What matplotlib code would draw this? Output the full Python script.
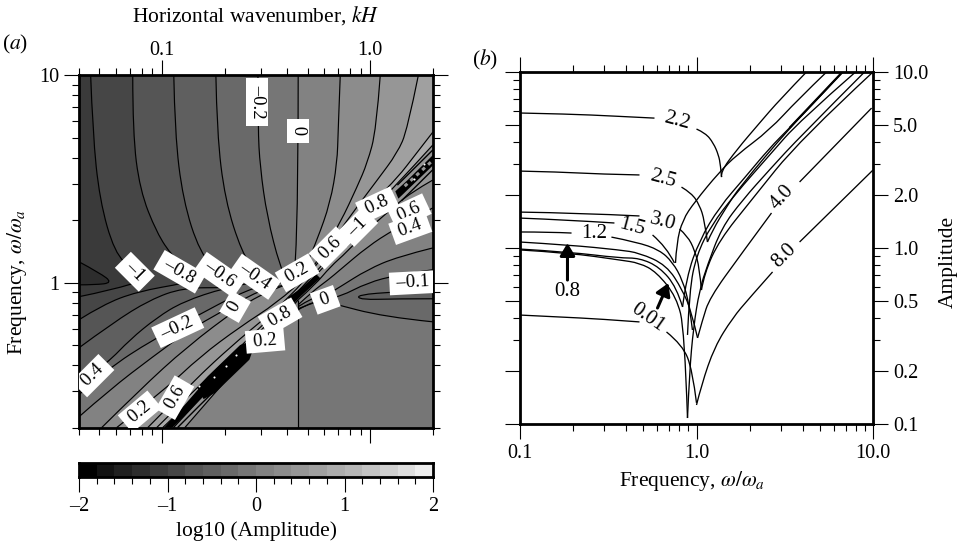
import matplotlib
matplotlib.use("Agg")
import matplotlib.pyplot as plt
from matplotlib.colors import ListedColormap
from matplotlib.patches import PathPatch
from matplotlib.path import Path
from matplotlib.ticker import FixedLocator, NullFormatter

plt.rcParams['font.family'] = ['Liberation Serif', 'DejaVu Serif']
plt.rcParams['mathtext.fontset'] = 'stix'

W, H = 959, 547

# colour bar cells, -2..2 in steps of 0.2
bar_edges = [-2.0, -1.8, -1.6, -1.4, -1.2, -1.0, -0.8, -0.6, -0.4, -0.2, 0.0,
             0.2, 0.4, 0.6, 0.8, 1.0, 1.2, 1.4, 1.6, 1.8, 2.0]
bar_grays = [0, 18, 32, 45, 58, 70, 85, 95, 105, 118, 130, 140, 150, 160, 172, 182, 195, 208, 222, 238]

# panel a: contours as (log10 kH, log10 omega)
EDGE_L, EDGE_R, EDGE_T, EDGE_B = -1.398, 0.301, 1.0, -0.699

c_wedge = [(-1.398, .101), (-1.299, .048), (-1.236, 0), (-1.322, -.010), (-1.398, -.010)]
c_m10 = [(-1.342, 1), (-1.332, .722), (-1.299, .399), (-1.227, .144), (-1.140, .063), (-1.068, .019),
         (-1.236, -.034), (-1.398, -.067)]
c_m08 = [(-1.140, 1), (-1.140, .722), (-1.106, .447), (-1.025, .240), (-.948, .125), (-.866, .053), (-.842, .014),
         (-.880, 0), (-1.121, -.043), (-1.284, -.106), (-1.398, -.178)]
c_m06 = [(-.943, 1), (-.938, .722), (-.899, .399), (-.818, .144), (-.712, .029), (-.640, -.019),
         (-.697, -.024), (-.899, -.024), (-1.058, -.082), (-1.236, -.193), (-1.398, -.313)]
c_m04 = [(-.741, 1), (-.736, .722), (-.697, .399), (-.616, .144), (-.548, .053), (-.491, .014),
         (-.697, -.024), (-.899, -.091), (-1.025, -.168), (-1.154, -.274), (-1.260, -.385), (-1.398, -.491)]
c_m02 = [(-.539, 1), (-.539, .746), (-.529, .558), (-.495, .317), (-.433, .077), (-.394, 0),
         (-.519, -.010), (-.659, -.067), (-.803, -.144), (-1.044, -.274), (-1.265, -.418), (-1.398, -.539)]
c_z00 = [(-.346, 1), (-.346, -.010), (-.409, -.010), (-.529, -.034), (-.722, -.144), (-.866, -.226),
         (-1.044, -.356), (-1.251, -.515), (-1.398, -.645)]
c_p01 = [(-.144, 1), (-.154, .736), (-.159, .577), (-.192, .385), (-.255, .207), (-.303, .096), (-.342, .014),
         (-.495, -.043), (-.625, -.115), (-.880, -.308), (-1.106, -.515), (-1.289, -.697)]
c_p02 = [(.048, 1), (.029, .736), (-.014, .577), (-.063, .462), (-.144, .289), (-.231, .144), (-.298, .038),
         (-.447, -.096), (-.625, -.212), (-.818, -.356), (-.986, -.515), (-1.217, -.697)]
c_p04 = [(.231, 1), (.178, .736), (.130, .625), (.034, .495), (-.063, .366), (-.178, .207), (-.265, .072),
         (-.385, -.067), (-.515, -.178), (-.659, -.298), (-.842, -.467), (-1.068, -.697)]
c_p06 = [(.301, .726), (.216, .616), (.130, .505), (.024, .399), (-.096, .245), (-.216, .101), (-.361, -.058),
         (-.481, -.168), (-.649, -.332), (-.842, -.515), (-1.025, -.697)]
c_p08 = [(.301, .664), (.192, .544), (.072, .418), (-.048, .279), (-.168, .135), (-.337, -.043),
         (-.457, -.159), (-.625, -.332), (-.818, -.529), (-.996, -.697)]

# lower right side of the resonance
c_r180 = [(.301, .495), (.192, .433), (.087, .342), (-.014, .255), (-.111, .149), (-.192, .077), (-.265, -.010), (-.346, -.082)]
c_r208 = [(.301, .361), (.111, .255), (-.014, .173), (-.144, .063), (-.202, .014), (-.279, -.043), (-.346, -.106)]
c_r248 = [(.301, .168), (.130, .125), (-.014, .063), (-.144, -.019), (-.192, -.048), (-.279, -.072), (-.346, -.115)]
c_r270 = [(.301, .063), (.130, .038), (-.014, 0), (-.144, -.067), (-.241, -.082), (-.346, -.125)]
c_r322 = [(.301, -.188), (.063, -.164), (-.192, -.096), (-.265, -.082), (-.346, -.130)]
c_tongue = [(.301, -.038), (.130, -.043), (-.063, -.058), (-.048, -.082), (.130, -.077), (.301, -.077)]
c_left = [(-.890, -.697), (-.587, -.346), (-.409, -.154), (-.346, -.082)]

# dense black contours along the resonance
strip_low = [(-.800, -.560), (-.745, -.530), (-.580, -.370), (-.545, -.270), (-.625, -.300), (-.780, -.450), (-.830, -.505)]
strip_tail = [(-.985, -.697), (-.950, -.697), (-.790, -.535), (-.815, -.500)]
strip_c1 = [(-.395, -.070), (-.337, -.030), (-.258, .040), (-.240, .022), (-.330, -.062), (-.380, -.112)]
strip_c2 = [(-.130, .207), (-.087, .235), (-.072, .207), (-.111, .173)]
strip_c3 = [(-.030, .289), (.005, .305), (.010, .275), (-.020, .262)]
strip_up = [(.120, .440), (.180, .495), (.301, .615), (.301, .565), (.135, .405)]
speck_k = [-.692, -.750, -.644, -.820, .210, .260]
speck_w = [-.399, -.452, -.346, -.495, .500, .570]
hatch_a = [(-.985, -.697), (-.760, -.455), (-.640, -.345)]
hatch_b = [(-.925, -.697), (-.710, -.480), (-.590, -.365)]
hatch_c = [(.130, .470), (.301, .640)]
hatch_d = [(.150, .395), (.301, .545)]
hatch_e = [(-.945, -.697), (-.740, -.475)]
edge_upper = [(-.960, -.697), (-.702, -.400), (-.640, -.350)]
dash_up = [(.165, .465), (.301, .590)]

labels_a = [("\u20130.2", -.543, .871, -90), ("0", -.346, .731, -90), ("0.8", .034, .375, 25),
            ("0.6", .188, .342, 25), ("0.4", .192, .265, 20), ("\u20131", -.058, .269, 45),
            ("0.6", -.192, .168, 45), ("0.2", -.351, .048, 30), ("\u20130.4", -.553, .029, -35),
            ("\u20130.6", -.722, .038, -35), ("\u20130.8", -.914, .053, -30), ("\u20131", -1.130, .053, -45),
            ("0", -.649, -.115, 60), ("\u20130.2", -.924, -.216, 25), ("0.8", -.433, -.164, 30),
            ("0.2", -.505, -.279, 5), ("0", -.216, -.082, 20), ("\u20130.1", .207, 0, 3),
            ("0.4", -1.332, -.447, 45), ("0.2", -1.106, -.620, 40), ("0.6", -.938, -.553, 60)]

# panel b: amplitude curves as (log10 frequency, log10 amplitude)
l22 = [(-1, .767), (-.720, .761), (-.476, .750), (-.238, .738)]
a22 = [(0, .676), (.051, .653), (.096, .596), (.125, .528), (.136, .471), (.142, .403)]
r22 = [(.142, .403), (.136, .432), (.227, .557), (.357, .710), (.470, .841), (.623, 1)]
l25 = [(-1, .437), (-.776, .432), (-.550, .420), (-.323, .415)]
a25 = [(-.085, .346), (-.028, .312), (.017, .244), (.045, .159), (.062, .034)]
r25 = [(.062, .034), (.091, .102), (.170, .233), (.244, .346), (.527, .682), (.680, .841), (.827, 1)]
l30 = [(-1, .204), (-.663, .199), (-.323, .182)]
a30 = [(-.096, .108), (-.051, .068), (-.011, -.011), (.017, -.114), (.028, -.239)]
r30 = [(.028, -.239), (.045, -.142), (.130, .045), (.312, .273), (.584, .613), (1, 1)]
l15 = [(-1, .170), (-.720, .159), (-.465, .142)]
a15 = [(-.249, .074), (-.170, .006), (-.125, -.085)]
r15 = [(-.119, -.085), (-.113, .028), (-.079, .159), (-.011, .261), (.130, .432), (.227, .528), (.414, .670), (.572, .841), (.737, 1)]
l12 = [(-1, .091), (-.833, .091), (-.708, .085)]
a12 = [(-.482, .062), (-.340, .034), (-.210, -.011), (-.136, -.080), (-.079, -.182), (-.040, -.324), (-.023, -.466)]
c08 = [(-1, .034), (-.720, .017), (-.436, -.011), (-.323, -.028), (-.170, -.097), (-.079, -.239), (-.028, -.364), (.006, -.511)]
c06 = [(-1, -.006), (-.720, -.023), (-.436, -.057), (-.323, -.057), (-.210, -.108), (-.113, -.222), (-.079, -.335)]
c05 = [(-1, -.011), (-.720, -.028), (-.436, -.068), (-.323, -.085), (-.227, -.136), (-.113, -.278), (-.068, -.466), (-.051, -.966)]
r_v1 = [(-.079, -.335), (-.057, -.165), (.017, .045), (.130, .233), (.272, .398), (.414, .568), (.527, .682), (.680, .841), (.827, 1)]
r_v2 = [(-.051, -.966), (-.040, -.710), (-.017, -.449), (.017, -.239), (.062, -.097), (.142, .114), (.261, .273), (.414, .445), (.584, .630), (.952, 1)]
r_v3 = [(-.051, -.494), (-.040, -.239), (0, -.040), (.085, .131), (.215, .301), (.414, .528), (.584, .722), (.901, 1)]
r40a = [(.006, -.511), (.034, -.409), (.074, -.284), (.249, -.040), (.425, .199)]
r40b = [(.584, .375), (.992, .795)]
r80a = [(0, -.892), (.028, -.778), (.102, -.562), (.204, -.398), (.300, -.284), (.431, -.136)]
r80b = [(.584, .034), (1, .443)]
l01 = [(-1, -.381), (-.776, -.392), (-.550, -.403), (-.323, -.420)]
a01 = [(-.170, -.477), (-.079, -.551), (-.023, -.693), (0, -.880)]

curves_b = [l22, a22, r22, l25, a25, r25, l30, a30, r30, l15, a15, r15, l12, a12, c08, c06, c05,
            r_v1, r_v2, r_v3, r40a, r40b, r80a, r80b, l01, a01]

labels_b = [("2.2", -.113, .721, -15), ("2.5", -.193, .392, -15), ("3.0", -.193, .148, -15),
            ("1.5", -.368, .119, -15), ("1.2", -.578, .085, 0), ("0.8", -.731, -.250, 0),
            ("0.01", -.278, -.398, -35), ("4.0", .487, .290, 48), ("8.0", .498, -.045, 45)]

k_major = [0.1, 1.0]
k_minor = [0.04, 0.05, 0.06, 0.07, 0.08, 0.09, 0.2, 0.3, 0.4, 0.5, 0.6, 0.7, 0.8, 0.9, 2.0]
w_major = [1, 10]
w_minor = [0.2, 0.3, 0.4, 0.5, 0.6, 0.7, 0.8, 0.9, 2, 3, 4, 5, 6, 7, 8, 9]
f_major = [0.1, 1.0, 10.0]
f_minor = [0.2, 0.3, 0.4, 0.5, 0.6, 0.7, 0.8, 0.9, 2, 3, 4, 5, 6, 7, 8, 9]
amp_major = [0.1, 0.2, 0.5, 1.0, 2.0, 5.0, 10.0]
amp_minor = [0.3, 0.4, 0.6, 0.7, 0.8, 0.9, 3, 4, 6, 7, 8, 9]


def gray(i):
    g = bar_grays[i] / 255
    return (g, g, g)


def smooth(points):
    # quadratic segments through the midpoints, only to round the drawn polyline
    verts = [points[0]]
    codes = [Path.MOVETO]
    n = len(points)
    if n == 2:
        return points[:], [Path.MOVETO, Path.LINETO]
    for i in range(1, n - 1):
        if i == n - 2:
            end = points[n - 1]
        else:
            end = ((points[i][0] + points[i + 1][0]) / 2, (points[i][1] + points[i + 1][1]) / 2)
        verts += [points[i], end]
        codes += [Path.CURVE3, Path.CURVE3]
    return verts, codes


def real(points):
    return [(10 ** p[0], 10 ** p[1]) for p in points]


def make_axes(fig, left, right, top, bottom):
    ax = fig.add_axes([left / W, 1 - bottom / H, (right - left) / W, (bottom - top) / H])
    for s in ax.spines.values():
        s.set_linewidth(2.0)
    return ax


def fill(ax, points, corners, shade):
    verts, codes = smooth(points)
    verts = real(verts) + real(corners) + [(1, 1)]
    codes = codes + [Path.LINETO] * len(corners) + [Path.CLOSEPOLY]
    ax.add_patch(PathPatch(Path(verts, codes), fc=gray(shade), ec='none', lw=0, zorder=1))


def line(ax, points, lw=0.85, zorder=3):
    verts, codes = smooth(points)
    ax.add_patch(PathPatch(Path(real(verts), codes), fc='none', ec='black', lw=lw, zorder=zorder, capstyle='butt'))


def set_ticks(ax, xmaj, xmin, ymaj, ymin):
    ax.set_xscale('log')
    ax.set_yscale('log')
    ax.xaxis.set_major_locator(FixedLocator(xmaj))
    ax.xaxis.set_minor_locator(FixedLocator(xmin))
    ax.yaxis.set_major_locator(FixedLocator(ymaj))
    ax.yaxis.set_minor_locator(FixedLocator(ymin))
    ax.xaxis.set_minor_formatter(NullFormatter())
    ax.yaxis.set_minor_formatter(NullFormatter())
    ax.tick_params(which='major', length=10.5, width=0.8, direction='out', top=True, right=True, labelsize=14.5)
    ax.tick_params(which='minor', length=5, width=0.8, direction='out', top=True, right=True)


fig = plt.figure(figsize=(W / 100, H / 100), dpi=100)

# (a) contour map
ax = make_axes(fig, 79, 433, 75, 428)
set_ticks(ax, k_major, k_minor, w_major, w_minor)
ax.set_xlim(0.04, 2.0)
ax.set_ylim(0.2, 10)
ax.set_facecolor(gray(12))

lower_corner = [(-.346, EDGE_B), (EDGE_R, EDGE_B)]
fill(ax, c_left, [(-.346, EDGE_B)], 10)
fill(ax, c_r180, lower_corner, 11)
fill(ax, c_r208, lower_corner, 10)
fill(ax, c_r248, lower_corner, 9)
fill(ax, c_r270, lower_corner, 8)
fill(ax, c_r322, lower_corner, 9)
fill(ax, c_tongue, [], 7)

upper_corner = [(EDGE_L, EDGE_B), (EDGE_L, EDGE_T)]
fill(ax, c_p08, upper_corner + [(EDGE_R, EDGE_T)], 14)
fill(ax, c_p06, upper_corner + [(EDGE_R, EDGE_T)], 13)
fill(ax, c_p04, upper_corner, 12)
fill(ax, c_p02, upper_corner, 11)
fill(ax, c_p01, upper_corner, 10)
fill(ax, c_z00, [(EDGE_L, EDGE_T)], 9)
fill(ax, c_m02, [(EDGE_L, EDGE_T)], 8)
fill(ax, c_m04, [(EDGE_L, EDGE_T)], 7)
fill(ax, c_m06, [(EDGE_L, EDGE_T)], 6)
fill(ax, c_m08, [(EDGE_L, EDGE_T)], 5)
fill(ax, c_m10, [(EDGE_L, EDGE_T)], 4)
fill(ax, c_wedge, [], 3)

for c in [c_wedge, c_m10, c_m08, c_m06, c_m04, c_m02, c_z00, c_p01, c_p02, c_p04, c_p06, c_p08,
          c_r180, c_r208, c_r248, c_r270, c_r322, c_left, c_tongue]:
    line(ax, c)
line(ax, [(-.346, -.082), (-.346, EDGE_B)])
for c in [hatch_a, hatch_b, hatch_c, hatch_d, hatch_e, edge_upper]:
    line(ax, c, lw=1.0)
for s in [strip_low, strip_tail, strip_c1, strip_c2, strip_c3, strip_up]:
    ax.fill([10 ** p[0] for p in s], [10 ** p[1] for p in s], color='black', lw=0, zorder=4)
ax.plot([10 ** p[0] for p in dash_up], [10 ** p[1] for p in dash_up], color=gray(12), lw=2.2,
        ls=(0, (1.2, 1.4)), zorder=5)
ax.plot([10 ** v for v in speck_k], [10 ** v for v in speck_w], ls='', marker='o', ms=1.5, mew=0, color='white', zorder=5)

for txt, lk, lw_, rot in labels_a:
    ax.text(10 ** lk, 10 ** lw_, f" {txt} ", rotation=rot, rotation_mode='anchor', ha='center', va='center',
            fontsize=13.5, zorder=6, clip_on=True, bbox=dict(boxstyle='square,pad=0.15', fc='white', ec='none'))

ax.tick_params(axis='x', which='both', labeltop=True, labelbottom=False)
ax.set_xticks(k_major, ['0.1', '1.0'])
ax.set_yticks(w_major, ['1', '10'])
ax.tick_params(axis='x', which='major', labelsize=14.5, pad=0)
ax.tick_params(axis='y', which='major', labelsize=14.5, pad=4)

# colour bar
cax = make_axes(fig, 79, 433, 463, 477)
cax.pcolormesh(bar_edges, [0, 1], [list(range(20))], cmap=ListedColormap([gray(i) for i in range(20)]), vmin=0, vmax=19)
cax.set_yticks([])
cax.set_xticks([-2, -1, 0, 1, 2], ['\u20132', '\u20131', '0', '1', '2'])
cax.set_xticks(bar_edges, minor=True)
cax.xaxis.set_minor_formatter(NullFormatter())
cax.tick_params(which='major', length=10.5, width=0.8, labelsize=14.5, pad=4)
cax.tick_params(which='minor', length=5, width=0.8)
cax.set_xlim(-2, 2)

# (b) amplitude curves
bx = make_axes(fig, 520, 873, 72, 424)
set_ticks(bx, f_major, f_minor, amp_major, amp_minor)
bx.set_xlim(0.1, 10)
bx.set_ylim(0.1, 10)
for c in curves_b:
    line(bx, c, lw=0.95)
line(bx, [(.527, .682), (.827, 1)], lw=1.6)
bx.tick_params(axis='y', which='both', labelleft=False, labelright=True)
bx.set_xticks(f_major, ['0.1', '1.0', '10.0'])
bx.set_yticks(amp_major, ['0.1', '0.2', '0.5', '1.0', '2.0', '5.0', '10.0'])
bx.tick_params(axis='x', which='major', labelsize=14.5, pad=4)
bx.tick_params(axis='y', which='major', labelsize=14.5, pad=4)

for txt, lf, la, rot in labels_b:
    bx.text(10 ** lf, 10 ** la, txt, rotation=rot, rotation_mode='anchor', ha='center', va='center', fontsize=15)

arrow = dict(arrowstyle='-|>,head_width=0.45,head_length=0.75', lw=2.2, color='black', shrinkA=0, shrinkB=0)
bx.annotate('', xy=(10 ** -.731, 10 ** .028), xytext=(10 ** -.731, 10 ** -.182), arrowprops=arrow)
bx.annotate('', xy=(10 ** -.159, 10 ** -.199), xytext=(10 ** -.221, 10 ** -.341), arrowprops=arrow)

fs = 15.5
fig.text(256 / W, 1 - 16 / H, 'Horizontal wavenumber, $kH$', ha='center', va='center', fontsize=fs)
fig.text(15 / W, 1 - 44 / H, '($a$)', ha='center', va='center', fontsize=fs)
fig.text(485 / W, 1 - 60 / H, '($b$)', ha='center', va='center', fontsize=fs)
fig.text(17 / W, 1 - 282 / H, r'Frequency, $\omega/\omega_a$', rotation=90, ha='center', va='center', fontsize=fs)
fig.text(256 / W, 1 - 531 / H, 'log10 (Amplitude)', ha='center', va='center', fontsize=fs)
fig.text(692 / W, 1 - 481 / H, r'Frequency, $\omega/\omega_a$', ha='center', va='center', fontsize=fs)
fig.text(948 / W, 1 - 262 / H, 'Amplitude', rotation=90, ha='center', va='center', fontsize=fs)

fig.savefig('out.png', dpi=100)
